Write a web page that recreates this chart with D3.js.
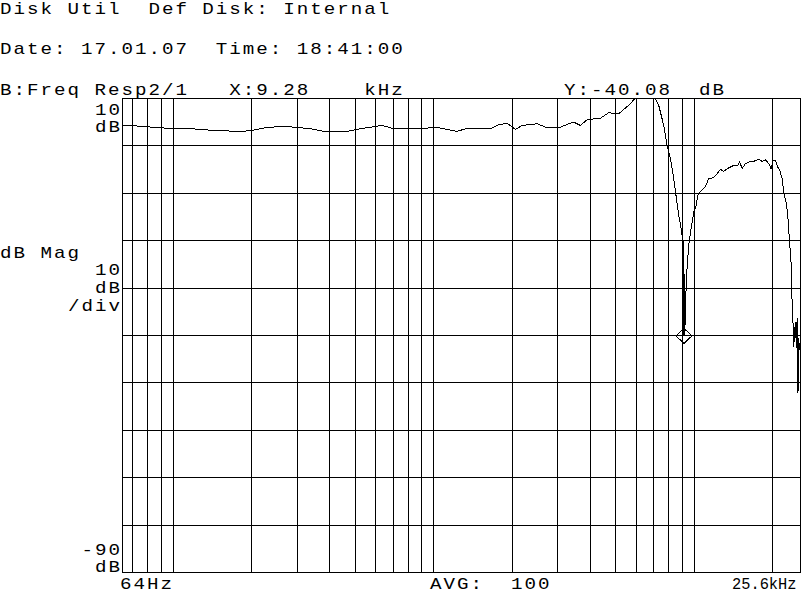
<!DOCTYPE html>
<html><head><meta charset="utf-8">
<script src="https://cdn.jsdelivr.net/npm/d3@7"></script>
<style>
html,body{margin:0;padding:0;background:#fff;}
svg{display:block;}
text{font-family:"Liberation Mono","DejaVu Sans Mono",monospace;font-size:16px;letter-spacing:1.65px;fill:#000;}
</style></head><body>
<svg id="c" width="802" height="593"></svg>
<script>
// ---- data ----
const freqHz = [64,70.7,83,101,118,143,182,201,222,262,300,337,379,466,524,635,703,904,1017,1231,1325,1653,1779,1916,2062,2188,2497,2728,3023,3256,3452,3662,3885,4371,4702,5137,5368,5694,5864,5952,7105,7315,7644,7878,8110,8350,8552,8727,8914,9074,9100,9115,9130,9140,9160,9175,9200,9338,9530,9736,9962,10178,10325,10574,10887,11051,11380,11891,12249,12615,12991,13386,13784,14194,14625,14965,15284,15735,16202,16934,17698,18236,18776,19330,19748,20098,20510,20929,21304,21762,22073,22606,22868,23213,23560,23767,23981,24110,24473,24690,24845,24975,25040,25200,25360];
const magDb = [4.25,4.25,3.96,3.62,3.62,3.26,3.05,3.26,3.75,4.17,3.89,3.62,3.05,3.05,3.62,4.32,3.62,3.62,3.96,3.05,3.62,3.62,4.46,4.80,3.47,4.32,4.67,3.83,3.83,4.53,5.01,4.32,5.52,5.85,6.99,6.78,7.68,8.88,9.79,10,10,8.53,4.32,0.11,-2.69,-6.91,-11.12,-14.63,-17.43,-20.25,-23.7,-38.5,-25.0,-40.08,-27.0,-39.5,-40.0,-27.9,-20.95,-17.43,-14.0,-12.53,-10.42,-9.58,-9.01,-8.53,-6.91,-6.69,-5.85,-4.95,-5.37,-4.80,-4.46,-4.11,-4.25,-3.41,-4.80,-3.75,-3.41,-3.26,-2.84,-3.26,-2.91,-3.75,-4.80,-3.05,-3.05,-4.46,-5.16,-6.91,-9.73,-12.17,-14.63,-19.89,-24.8,-32.88,-37.79,-42.36,-37.09,-42.63,-36.38,-44.1,-52.1,-40.59,-43.05];
const gridFreqs = [70,80,90,100,200,300,400,500,600,700,800,900,1000,2000,3000,4000,5000,6000,7000,8000,9000,10000,20000];
const gridDb = [0,-10,-20,-30,-40,-50,-60,-70,-80];
const freqDomain = [64,25600];
const dbDomain = [-90,10];
const markerFreq = 9140, markerDb = -40.08;
const headerLines = ["Disk Util  Def Disk: Internal","Date: 17.01.07  Time: 18:41:00","B:Freq Resp2/1   X:9.28    kHz"];
const markerReadout = "Y:-40.08  dB";
const yTopLabel = ["10","dB"], yMidLabel = ["10","dB","/div"], yBottomLabel = ["-90","dB"], yTitle = "dB Mag";
const xStartLabel = "64Hz", xEndLabel = "25.6kHz", avgLabel = "AVG:  100";

// ---- drawing ----
const svg = d3.select("#c");
const L = 122, R = 800, T = 98, B = 572, CW = 13.5, SX = 1.2;
const x = d3.scaleLog().domain(freqDomain).range([L, R]);
const y = d3.scaleLinear().domain(dbDomain).range([B, T]);
const g = svg.append("g").attr("transform","translate(0.5,0.5)");

g.selectAll("line.v").data(gridFreqs).join("line").attr("class","v")
  .attr("x1",d=>Math.round(x(d))).attr("x2",d=>Math.round(x(d))).attr("y1",T).attr("y2",B)
  .attr("stroke","#000").attr("shape-rendering","crispEdges");
g.selectAll("line.h").data(gridDb).join("line").attr("class","h")
  .attr("y1",d=>Math.round(y(d))).attr("y2",d=>Math.round(y(d))).attr("x1",L).attr("x2",R)
  .attr("stroke","#000").attr("shape-rendering","crispEdges");
g.append("rect").attr("x",L).attr("y",T).attr("width",R-L).attr("height",B-T)
  .attr("fill","none").attr("stroke","#000").attr("shape-rendering","crispEdges");

const pts = freqHz.map((f,i)=>[f,magDb[i]]);
const line = d3.line().x(d=>x(d[0])).y(d=>y(d[1]));
g.append("path").attr("d",line(pts)).attr("fill","none").attr("stroke","#000")
  .attr("stroke-width",1).attr("shape-rendering","crispEdges");

const mx = x(markerFreq), my = y(markerDb);
g.append("path").attr("d",`M${mx},${my-7.5}L${mx+8},${my}L${mx},${my+7.5}L${mx-8},${my}Z`)
  .attr("fill","none").attr("stroke","#000").attr("shape-rendering","crispEdges");

function txt(s, x0, yb, sx){
  return svg.append("text").attr("x",0).attr("y",0)
    .attr("transform",`translate(${x0},${yb}) scale(${sx||SX},1)`)
    .attr("xml:space","preserve").text(s);
}
headerLines.forEach((s,i)=>txt(s,0,[13.5,54,95][i]));
txt(markerReadout,564,95);
function rtxt(s, yb){ txt(s, L - s.length*CW, yb); }
rtxt(yTopLabel[0],115); rtxt(yTopLabel[1],132);
txt(yTitle,0,258);
rtxt(yMidLabel[0],275); rtxt(yMidLabel[1],293); rtxt(yMidLabel[2],311);
rtxt(yBottomLabel[0],555); rtxt(yBottomLabel[1],572);
txt(xStartLabel,120,589);
txt(avgLabel,430,589);
txt(xEndLabel,732,589,0.96).style("letter-spacing","0px");
</script>
</body></html>
